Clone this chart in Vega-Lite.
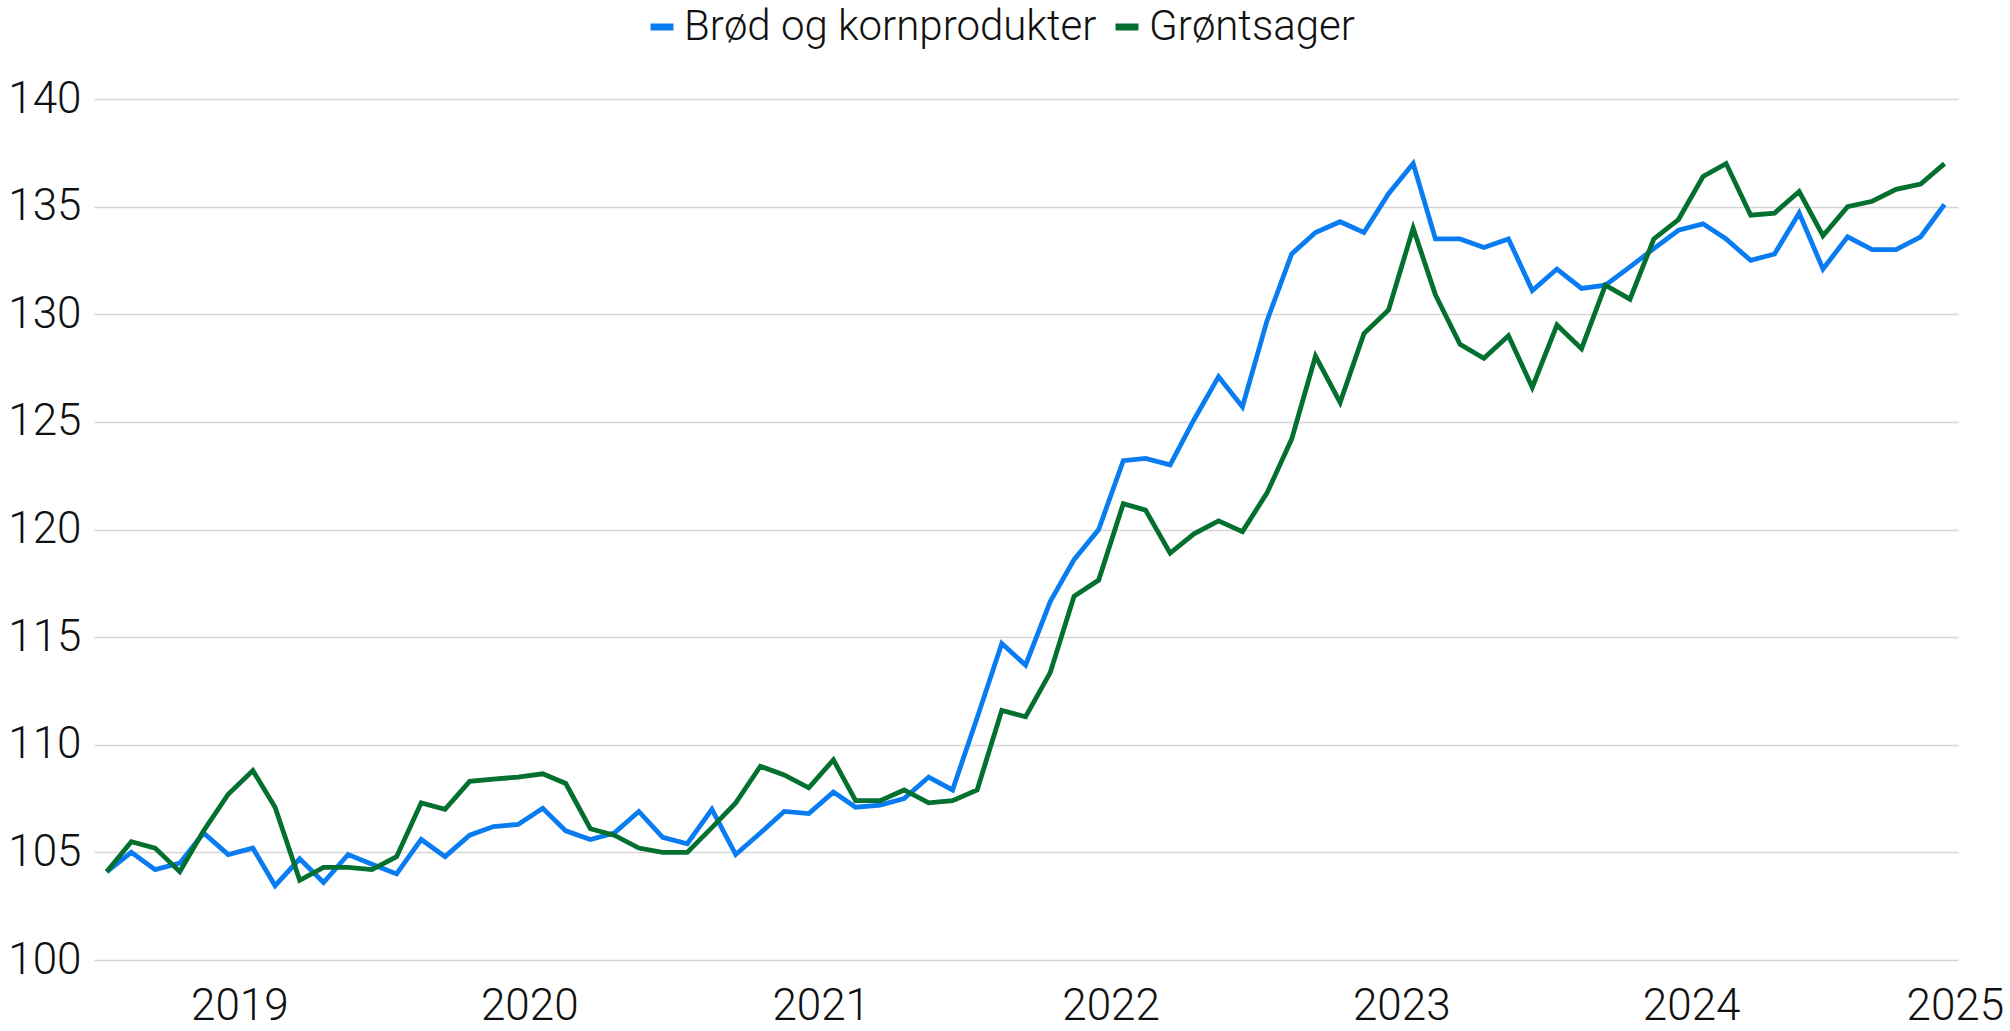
{
  "$schema": "https://vega.github.io/schema/vega-lite/v6.json",
  "width": 1864,
  "height": 861,
  "autosize": {"type": "none"},
  "padding": {"left": 94, "top": 99, "right": 52, "bottom": 71},
  "background": "white",
  "config": {
    "view": {"stroke": null},
    "font": "Roboto",
    "axis": {"labelColor": "#111111", "labelFont": "Roboto", "labelFontWeight": 300},
    "legend": {"labelColor": "#111111", "labelFont": "Roboto", "labelFontWeight": 300}
  },
  "data": {
    "values": [
      {"date": "2018-08-01", "serie": "Brød og kornprodukter", "value": 104.1},
      {"date": "2018-09-01", "serie": "Brød og kornprodukter", "value": 105.0},
      {"date": "2018-10-01", "serie": "Brød og kornprodukter", "value": 104.2},
      {"date": "2018-11-01", "serie": "Brød og kornprodukter", "value": 104.5},
      {"date": "2018-12-01", "serie": "Brød og kornprodukter", "value": 105.9},
      {"date": "2019-01-01", "serie": "Brød og kornprodukter", "value": 104.9},
      {"date": "2019-02-01", "serie": "Brød og kornprodukter", "value": 105.2},
      {"date": "2019-03-01", "serie": "Brød og kornprodukter", "value": 103.45},
      {"date": "2019-04-01", "serie": "Brød og kornprodukter", "value": 104.7},
      {"date": "2019-05-01", "serie": "Brød og kornprodukter", "value": 103.6},
      {"date": "2019-06-01", "serie": "Brød og kornprodukter", "value": 104.9},
      {"date": "2019-07-01", "serie": "Brød og kornprodukter", "value": 104.45},
      {"date": "2019-08-01", "serie": "Brød og kornprodukter", "value": 104.0},
      {"date": "2019-09-01", "serie": "Brød og kornprodukter", "value": 105.6},
      {"date": "2019-10-01", "serie": "Brød og kornprodukter", "value": 104.8},
      {"date": "2019-11-01", "serie": "Brød og kornprodukter", "value": 105.8},
      {"date": "2019-12-01", "serie": "Brød og kornprodukter", "value": 106.2},
      {"date": "2020-01-01", "serie": "Brød og kornprodukter", "value": 106.3},
      {"date": "2020-02-01", "serie": "Brød og kornprodukter", "value": 107.05},
      {"date": "2020-03-01", "serie": "Brød og kornprodukter", "value": 106.0},
      {"date": "2020-04-01", "serie": "Brød og kornprodukter", "value": 105.6},
      {"date": "2020-05-01", "serie": "Brød og kornprodukter", "value": 105.9},
      {"date": "2020-06-01", "serie": "Brød og kornprodukter", "value": 106.9},
      {"date": "2020-07-01", "serie": "Brød og kornprodukter", "value": 105.7},
      {"date": "2020-08-01", "serie": "Brød og kornprodukter", "value": 105.4},
      {"date": "2020-09-01", "serie": "Brød og kornprodukter", "value": 107.0},
      {"date": "2020-10-01", "serie": "Brød og kornprodukter", "value": 104.9},
      {"date": "2020-11-01", "serie": "Brød og kornprodukter", "value": 105.9},
      {"date": "2020-12-01", "serie": "Brød og kornprodukter", "value": 106.9},
      {"date": "2021-01-01", "serie": "Brød og kornprodukter", "value": 106.8},
      {"date": "2021-02-01", "serie": "Brød og kornprodukter", "value": 107.8},
      {"date": "2021-03-01", "serie": "Brød og kornprodukter", "value": 107.1},
      {"date": "2021-04-01", "serie": "Brød og kornprodukter", "value": 107.2},
      {"date": "2021-05-01", "serie": "Brød og kornprodukter", "value": 107.5},
      {"date": "2021-06-01", "serie": "Brød og kornprodukter", "value": 108.5},
      {"date": "2021-07-01", "serie": "Brød og kornprodukter", "value": 107.9},
      {"date": "2021-08-01", "serie": "Brød og kornprodukter", "value": 111.25},
      {"date": "2021-09-01", "serie": "Brød og kornprodukter", "value": 114.7},
      {"date": "2021-10-01", "serie": "Brød og kornprodukter", "value": 113.7},
      {"date": "2021-11-01", "serie": "Brød og kornprodukter", "value": 116.65},
      {"date": "2021-12-01", "serie": "Brød og kornprodukter", "value": 118.6},
      {"date": "2022-01-01", "serie": "Brød og kornprodukter", "value": 120.0},
      {"date": "2022-02-01", "serie": "Brød og kornprodukter", "value": 123.2},
      {"date": "2022-03-01", "serie": "Brød og kornprodukter", "value": 123.3},
      {"date": "2022-04-01", "serie": "Brød og kornprodukter", "value": 123.0},
      {"date": "2022-05-01", "serie": "Brød og kornprodukter", "value": 125.1},
      {"date": "2022-06-01", "serie": "Brød og kornprodukter", "value": 127.1},
      {"date": "2022-07-01", "serie": "Brød og kornprodukter", "value": 125.7},
      {"date": "2022-08-01", "serie": "Brød og kornprodukter", "value": 129.7},
      {"date": "2022-09-01", "serie": "Brød og kornprodukter", "value": 132.8},
      {"date": "2022-10-01", "serie": "Brød og kornprodukter", "value": 133.8},
      {"date": "2022-11-01", "serie": "Brød og kornprodukter", "value": 134.3},
      {"date": "2022-12-01", "serie": "Brød og kornprodukter", "value": 133.8},
      {"date": "2023-01-01", "serie": "Brød og kornprodukter", "value": 135.6},
      {"date": "2023-02-01", "serie": "Brød og kornprodukter", "value": 137.0},
      {"date": "2023-03-01", "serie": "Brød og kornprodukter", "value": 133.5},
      {"date": "2023-04-01", "serie": "Brød og kornprodukter", "value": 133.5},
      {"date": "2023-05-01", "serie": "Brød og kornprodukter", "value": 133.1},
      {"date": "2023-06-01", "serie": "Brød og kornprodukter", "value": 133.5},
      {"date": "2023-07-01", "serie": "Brød og kornprodukter", "value": 131.1},
      {"date": "2023-08-01", "serie": "Brød og kornprodukter", "value": 132.1},
      {"date": "2023-09-01", "serie": "Brød og kornprodukter", "value": 131.2},
      {"date": "2023-10-01", "serie": "Brød og kornprodukter", "value": 131.35},
      {"date": "2023-11-01", "serie": "Brød og kornprodukter", "value": 132.2},
      {"date": "2023-12-01", "serie": "Brød og kornprodukter", "value": 133.05},
      {"date": "2024-01-01", "serie": "Brød og kornprodukter", "value": 133.9},
      {"date": "2024-02-01", "serie": "Brød og kornprodukter", "value": 134.2},
      {"date": "2024-03-01", "serie": "Brød og kornprodukter", "value": 133.5},
      {"date": "2024-04-01", "serie": "Brød og kornprodukter", "value": 132.5},
      {"date": "2024-05-01", "serie": "Brød og kornprodukter", "value": 132.8},
      {"date": "2024-06-01", "serie": "Brød og kornprodukter", "value": 134.7},
      {"date": "2024-07-01", "serie": "Brød og kornprodukter", "value": 132.1},
      {"date": "2024-08-01", "serie": "Brød og kornprodukter", "value": 133.6},
      {"date": "2024-09-01", "serie": "Brød og kornprodukter", "value": 133.0},
      {"date": "2024-10-01", "serie": "Brød og kornprodukter", "value": 133.0},
      {"date": "2024-11-01", "serie": "Brød og kornprodukter", "value": 133.6},
      {"date": "2024-12-01", "serie": "Brød og kornprodukter", "value": 135.1},
      {"date": "2018-08-01", "serie": "Grøntsager", "value": 104.1},
      {"date": "2018-09-01", "serie": "Grøntsager", "value": 105.5},
      {"date": "2018-10-01", "serie": "Grøntsager", "value": 105.2},
      {"date": "2018-11-01", "serie": "Grøntsager", "value": 104.1},
      {"date": "2018-12-01", "serie": "Grøntsager", "value": 106.0},
      {"date": "2019-01-01", "serie": "Grøntsager", "value": 107.7},
      {"date": "2019-02-01", "serie": "Grøntsager", "value": 108.8},
      {"date": "2019-03-01", "serie": "Grøntsager", "value": 107.1},
      {"date": "2019-04-01", "serie": "Grøntsager", "value": 103.7},
      {"date": "2019-05-01", "serie": "Grøntsager", "value": 104.3},
      {"date": "2019-06-01", "serie": "Grøntsager", "value": 104.3},
      {"date": "2019-07-01", "serie": "Grøntsager", "value": 104.2},
      {"date": "2019-08-01", "serie": "Grøntsager", "value": 104.8},
      {"date": "2019-09-01", "serie": "Grøntsager", "value": 107.3},
      {"date": "2019-10-01", "serie": "Grøntsager", "value": 107.0},
      {"date": "2019-11-01", "serie": "Grøntsager", "value": 108.3},
      {"date": "2019-12-01", "serie": "Grøntsager", "value": 108.4},
      {"date": "2020-01-01", "serie": "Grøntsager", "value": 108.5},
      {"date": "2020-02-01", "serie": "Grøntsager", "value": 108.65},
      {"date": "2020-03-01", "serie": "Grøntsager", "value": 108.2},
      {"date": "2020-04-01", "serie": "Grøntsager", "value": 106.1},
      {"date": "2020-05-01", "serie": "Grøntsager", "value": 105.8},
      {"date": "2020-06-01", "serie": "Grøntsager", "value": 105.2},
      {"date": "2020-07-01", "serie": "Grøntsager", "value": 105.0},
      {"date": "2020-08-01", "serie": "Grøntsager", "value": 105.0},
      {"date": "2020-09-01", "serie": "Grøntsager", "value": 106.15},
      {"date": "2020-10-01", "serie": "Grøntsager", "value": 107.3},
      {"date": "2020-11-01", "serie": "Grøntsager", "value": 109.0},
      {"date": "2020-12-01", "serie": "Grøntsager", "value": 108.6},
      {"date": "2021-01-01", "serie": "Grøntsager", "value": 108.0},
      {"date": "2021-02-01", "serie": "Grøntsager", "value": 109.3},
      {"date": "2021-03-01", "serie": "Grøntsager", "value": 107.4},
      {"date": "2021-04-01", "serie": "Grøntsager", "value": 107.4},
      {"date": "2021-05-01", "serie": "Grøntsager", "value": 107.9},
      {"date": "2021-06-01", "serie": "Grøntsager", "value": 107.3},
      {"date": "2021-07-01", "serie": "Grøntsager", "value": 107.4},
      {"date": "2021-08-01", "serie": "Grøntsager", "value": 107.9},
      {"date": "2021-09-01", "serie": "Grøntsager", "value": 111.6},
      {"date": "2021-10-01", "serie": "Grøntsager", "value": 111.3},
      {"date": "2021-11-01", "serie": "Grøntsager", "value": 113.35},
      {"date": "2021-12-01", "serie": "Grøntsager", "value": 116.9},
      {"date": "2022-01-01", "serie": "Grøntsager", "value": 117.65},
      {"date": "2022-02-01", "serie": "Grøntsager", "value": 121.2},
      {"date": "2022-03-01", "serie": "Grøntsager", "value": 120.9},
      {"date": "2022-04-01", "serie": "Grøntsager", "value": 118.9},
      {"date": "2022-05-01", "serie": "Grøntsager", "value": 119.8},
      {"date": "2022-06-01", "serie": "Grøntsager", "value": 120.4},
      {"date": "2022-07-01", "serie": "Grøntsager", "value": 119.9},
      {"date": "2022-08-01", "serie": "Grøntsager", "value": 121.7},
      {"date": "2022-09-01", "serie": "Grøntsager", "value": 124.2},
      {"date": "2022-10-01", "serie": "Grøntsager", "value": 128.05},
      {"date": "2022-11-01", "serie": "Grøntsager", "value": 125.9},
      {"date": "2022-12-01", "serie": "Grøntsager", "value": 129.1},
      {"date": "2023-01-01", "serie": "Grøntsager", "value": 130.2},
      {"date": "2023-02-01", "serie": "Grøntsager", "value": 134.0},
      {"date": "2023-03-01", "serie": "Grøntsager", "value": 130.9},
      {"date": "2023-04-01", "serie": "Grøntsager", "value": 128.6},
      {"date": "2023-05-01", "serie": "Grøntsager", "value": 127.95},
      {"date": "2023-06-01", "serie": "Grøntsager", "value": 129.0},
      {"date": "2023-07-01", "serie": "Grøntsager", "value": 126.6},
      {"date": "2023-08-01", "serie": "Grøntsager", "value": 129.5},
      {"date": "2023-09-01", "serie": "Grøntsager", "value": 128.4},
      {"date": "2023-10-01", "serie": "Grøntsager", "value": 131.35},
      {"date": "2023-11-01", "serie": "Grøntsager", "value": 130.7},
      {"date": "2023-12-01", "serie": "Grøntsager", "value": 133.5},
      {"date": "2024-01-01", "serie": "Grøntsager", "value": 134.4},
      {"date": "2024-02-01", "serie": "Grøntsager", "value": 136.4},
      {"date": "2024-03-01", "serie": "Grøntsager", "value": 137.0},
      {"date": "2024-04-01", "serie": "Grøntsager", "value": 134.6},
      {"date": "2024-05-01", "serie": "Grøntsager", "value": 134.7},
      {"date": "2024-06-01", "serie": "Grøntsager", "value": 135.7},
      {"date": "2024-07-01", "serie": "Grøntsager", "value": 133.65},
      {"date": "2024-08-01", "serie": "Grøntsager", "value": 135.0},
      {"date": "2024-09-01", "serie": "Grøntsager", "value": 135.25},
      {"date": "2024-10-01", "serie": "Grøntsager", "value": 135.8},
      {"date": "2024-11-01", "serie": "Grøntsager", "value": 136.05},
      {"date": "2024-12-01", "serie": "Grøntsager", "value": 137.0}
    ]
  },
  "mark": {"type": "line", "strokeWidth": 4.8},
  "encoding": {
    "x": {
      "field": "date",
      "type": "temporal",
      "scale": {"domain": [{"year": 2018, "month": 7, "date": 16}, {"year": 2024, "month": 12, "date": 18}]},
      "axis": {
        "title": null,
        "values": [
          {"year": 2019, "month": 1, "date": 15},
          {"year": 2020, "month": 1, "date": 15},
          {"year": 2021, "month": 1, "date": 16},
          {"year": 2022, "month": 1, "date": 16},
          {"year": 2023, "month": 1, "date": 17},
          {"year": 2024, "month": 1, "date": 17},
          {"year": 2024, "month": 12, "date": 14}
        ],
        "labelExpr": "month(datum.value) == 11 ? '2025' : timeFormat(datum.value, '%Y')",
        "grid": false,
        "ticks": false,
        "domain": false,
        "labelFontSize": 44,
        "labelPadding": 59,
        "labelBaseline": "alphabetic",
        "labelFlush": false,
        "labelOverlap": false
      }
    },
    "y": {
      "field": "value",
      "type": "quantitative",
      "scale": {"domain": [100, 140], "nice": false, "zero": false},
      "axis": {
        "title": null,
        "values": [100, 105, 110, 115, 120, 125, 130, 135, 140],
        "grid": true,
        "gridColor": "#d6d6d6",
        "gridWidth": 1.5,
        "ticks": false,
        "domain": false,
        "labelFontSize": 44,
        "labelPadding": 13,
        "labelFlush": false,
        "labelOverlap": false
      }
    },
    "color": {
      "field": "serie",
      "type": "nominal",
      "scale": {"domain": ["Brød og kornprodukter", "Grøntsager"], "range": ["#0a7cf2", "#037030"]},
      "legend": {
        "title": null,
        "orient": "none",
        "legendX": 547,
        "legendY": -93,
        "direction": "horizontal",
        "labelFontSize": 42,
        "symbolType": "stroke",
        "symbolSize": 529,
        "symbolStrokeWidth": 7,
        "labelLimit": 1000,
        "columnPadding": 4,
        "labelOffset": 1
      }
    }
  }
}
